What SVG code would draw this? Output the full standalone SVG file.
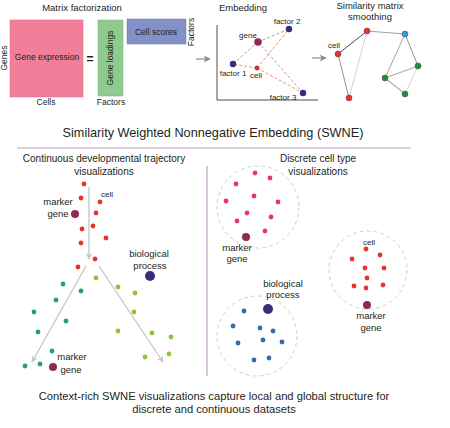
<svg xmlns="http://www.w3.org/2000/svg" width="450" height="428" viewBox="0 0 450 428">
<defs>
<style>
text{font-family:"Liberation Sans",Arial,sans-serif;fill:#231f20;}
.t{font-size:9.5px;text-anchor:middle;}
.s{font-size:8.5px;text-anchor:middle;}
.xs{font-size:8px;text-anchor:middle;}
.big{font-size:12.7px;text-anchor:middle;}
.bot{font-size:11.2px;text-anchor:middle;}
.ax{stroke:#231f20;stroke-width:0.8;fill:none;}
.gd{stroke:#9a9a9a;stroke-width:0.9;stroke-dasharray:3,2;fill:none;}
.od{stroke:#f0855a;stroke-width:0.9;stroke-dasharray:3,2;fill:none;}
.fac{fill:#3b2a7d;}
.mk{fill:#8e2a57;}
.red{fill:#e8322e;}
.pink{fill:#e9336e;}
.blu{fill:#3a66b1;}
.teal{fill:#26998e;}
.lime{fill:#8cc43f;}
.circ{fill:none;stroke:#c8c8c8;stroke-width:0.9;stroke-dasharray:4,3;}
.arr{stroke:#c4c4c4;stroke-width:1.3;fill:none;}
.gn{stroke:#444;stroke-width:0.5;}
</style>
<marker id="ah" viewBox="0 0 10 10" refX="9" refY="5" markerWidth="5" markerHeight="5" orient="auto" markerUnits="strokeWidth">
<path d="M0,0 L10,5 L0,10 L3,5 z" fill="#c4c4c4"/>
</marker>
<marker id="ahg" viewBox="0 0 10 10" refX="9" refY="5" markerWidth="6" markerHeight="6" orient="auto" markerUnits="strokeWidth">
<path d="M0,0 L10,5 L0,10 L3,5 z" fill="#8a8a8a"/>
</marker>
</defs>

<!-- Matrix factorization -->
<g id="matrix-factorization">
<text class="t" x="82" y="11">Matrix factorization</text>
<rect x="10" y="20" width="73" height="77" fill="#f17f9a" stroke="#d96a85" stroke-width="0.5"/>
<text class="s" x="47" y="60">Gene expression</text>
<text class="s" transform="translate(7,58) rotate(-90)">Genes</text>
<text class="s" x="46" y="105">Cells</text>
<text x="90" y="63" style="font-size:12px;font-weight:bold;text-anchor:middle">=</text>
<rect x="98" y="20" width="25" height="76" fill="#8fca8f" stroke="#76b077" stroke-width="0.5"/>
<text class="s" transform="translate(113,58) rotate(-90)">Gene loadings</text>
<text class="s" x="111" y="105">Factors</text>
<rect x="127" y="19" width="59" height="25" fill="#8291c6" stroke="#6f7fb3" stroke-width="0.5"/>
<text class="s" x="156" y="35">Cell scores</text>
<text class="s" transform="translate(194,32) rotate(-90)">Factors</text>
</g>

<g id="connectors">
<line x1="196" y1="59" x2="210" y2="59" stroke="#8a8a8a" stroke-width="1.2" marker-end="url(#ahg)"/>
<line x1="312" y1="58" x2="326" y2="58" stroke="#8a8a8a" stroke-width="1.2" marker-end="url(#ahg)"/>
</g>

<!-- Embedding -->
<g id="embedding">
<text class="t" x="243" y="11">Embedding</text>
<path class="ax" d="M217,25 V100 H318"/>
<line class="gd" x1="258" y1="42" x2="233" y2="64"/>
<line class="gd" x1="258" y1="42" x2="289" y2="29"/>
<line class="gd" x1="258" y1="42" x2="303" y2="93"/>
<line class="od" x1="257" y1="68" x2="233" y2="64"/>
<line class="od" x1="257" y1="68" x2="289" y2="29"/>
<line class="od" x1="257" y1="68" x2="303" y2="93"/>
<circle class="fac" cx="289" cy="29" r="3.2"/>
<circle class="fac" cx="233" cy="64" r="3.2"/>
<circle class="fac" cx="303" cy="93" r="3.2"/>
<circle class="mk" cx="258" cy="42" r="3.8"/>
<circle cx="257" cy="68" r="2.2" fill="#e8322e" stroke="#6a1a1a" stroke-width="0.4"/>
<text class="xs" x="287" y="24">factor 2</text>
<text class="xs" x="248" y="38">gene</text>
<text class="xs" x="233" y="76">factor 1</text>
<text class="xs" x="256" y="78">cell</text>
<text class="xs" x="283" y="100">factor 3</text>
</g>

<!-- Similarity smoothing -->
<g id="similarity-smoothing">
<text class="t" x="370" y="9">Similarity matrix</text>
<text class="t" x="370" y="20">smoothing</text>
<line x1="367" y1="31" x2="405" y2="34" stroke="#999" stroke-width="0.9"/>
<line x1="367" y1="31" x2="338" y2="54" stroke="#333" stroke-width="0.9"/>
<line x1="367" y1="31" x2="349" y2="98" stroke="#ccc" stroke-width="0.9"/>
<line x1="338" y1="54" x2="349" y2="98" stroke="#888" stroke-width="0.9"/>
<line x1="405" y1="34" x2="418" y2="66" stroke="#888" stroke-width="0.9"/>
<line x1="405" y1="34" x2="385" y2="78" stroke="#999" stroke-width="0.9"/>
<line x1="385" y1="78" x2="418" y2="66" stroke="#999" stroke-width="0.9"/>
<line x1="385" y1="78" x2="405" y2="94" stroke="#777" stroke-width="0.9"/>
<line x1="418" y1="66" x2="405" y2="94" stroke="#ccc" stroke-width="0.9"/>
<circle class="red gn" cx="367" cy="31" r="3"/>
<circle cx="405" cy="34" r="3" fill="#2a9fd8" class="gn"/>
<circle class="red gn" cx="338" cy="54" r="3"/>
<circle class="red gn" cx="349" cy="98" r="3"/>
<circle cx="418" cy="66" r="3" fill="#1f8f3e" class="gn"/>
<circle cx="385" cy="78" r="3" fill="#1f8f3e" class="gn"/>
<circle cx="405" cy="94" r="3" fill="#1f8f3e" class="gn"/>
<text class="xs" x="334" y="48">cell</text>
</g>

<!-- SWNE title -->
<g id="swne-title">
<text class="big" x="213" y="137">Similarity Weighted Nonnegative Embedding (SWNE)</text>
<line x1="17" y1="148" x2="411" y2="148" stroke="#c39ec8" stroke-width="1.2"/>
<line x1="207" y1="166" x2="207" y2="376" stroke="#c39ec8" stroke-width="1.2"/>
</g>

<!-- Continuous -->
<g id="continuous">
<text class="t" x="104" y="162" style="font-size:10px">Continuous developmental trajectory</text>
<text class="t" x="104" y="175" style="font-size:10px">visualizations</text>
<line class="arr" x1="89" y1="187" x2="89" y2="259" marker-end="url(#ah)"/>
<line class="arr" x1="86" y1="266" x2="32" y2="362" marker-end="url(#ah)"/>
<line class="arr" x1="99" y1="266" x2="163" y2="362" marker-end="url(#ah)"/>
<g class="red">
<circle cx="84" cy="184" r="2.4"/><circle cx="81" cy="198" r="2.4"/><circle cx="100" cy="202" r="2.4"/>
<circle cx="96" cy="213" r="2.4"/><circle cx="93" cy="226" r="2.4"/><circle cx="82" cy="229" r="2.4"/>
<circle cx="106" cy="238" r="2.4"/><circle cx="81" cy="243" r="2.4"/><circle cx="95" cy="259" r="2.4"/>
<circle cx="78" cy="267" r="2.4"/>
</g>
<g class="lime">
<circle cx="96" cy="278" r="2.4"/><circle cx="118" cy="287" r="2.4"/><circle cx="135" cy="293" r="2.4"/>
<circle cx="134" cy="312" r="2.4"/><circle cx="118" cy="331" r="2.4"/><circle cx="152" cy="333" r="2.4"/>
<circle cx="171" cy="337" r="2.4"/><circle cx="145" cy="357" r="2.4"/><circle cx="169" cy="354" r="2.4"/>
</g>
<g class="teal">
<circle cx="63" cy="284" r="2.4"/><circle cx="81" cy="291" r="2.4"/><circle cx="56" cy="300" r="2.4"/>
<circle cx="34" cy="312" r="2.4"/><circle cx="66" cy="321" r="2.4"/><circle cx="38" cy="332" r="2.4"/>
<circle cx="52" cy="351" r="2.4"/><circle cx="40" cy="364" r="2.4"/><circle cx="25" cy="366" r="2.4"/>
</g>
<text class="xs" x="107" y="197">cell</text>
<text class="t" x="58" y="205">marker</text>
<text class="t" x="58" y="217">gene</text>
<circle class="mk" cx="75" cy="214" r="4"/>
<text class="t" x="149" y="257">biological</text>
<text class="t" x="150" y="269">process</text>
<circle class="fac" cx="150" cy="276" r="5"/>
<circle class="mk" cx="53" cy="367" r="4"/>
<text class="t" x="72" y="360">marker</text>
<text class="t" x="71" y="373">gene</text>
</g>

<!-- Discrete -->
<g id="discrete">
<text class="t" x="318" y="162" style="font-size:10px">Discrete cell type</text>
<text class="t" x="318" y="175" style="font-size:10px">visualizations</text>
<circle class="circ" cx="258" cy="207" r="41"/>
<circle class="circ" cx="368" cy="270" r="39"/>
<circle class="circ" cx="257" cy="336" r="40"/>
<g class="pink">
<circle cx="255" cy="173" r="2.4"/><circle cx="270" cy="178" r="2.4"/><circle cx="236" cy="184" r="2.4"/>
<circle cx="254" cy="196" r="2.4"/><circle cx="226" cy="201" r="2.4"/><circle cx="278" cy="202" r="2.4"/>
<circle cx="247" cy="213" r="2.4"/><circle cx="271" cy="217" r="2.4"/><circle cx="237" cy="221" r="2.4"/>
<circle cx="265" cy="231" r="2.4"/>
</g>
<circle class="mk" cx="246" cy="237" r="4"/>
<text class="t" x="237" y="251">marker</text>
<text class="t" x="237" y="262">gene</text>
<g class="red">
<circle cx="366" cy="249" r="2.4"/><circle cx="352" cy="259" r="2.4"/><circle cx="380" cy="255" r="2.4"/>
<circle cx="365" cy="268" r="2.4"/><circle cx="384" cy="268" r="2.4"/><circle cx="367" cy="278" r="2.4"/>
<circle cx="354" cy="286" r="2.4"/><circle cx="366" cy="288" r="2.4"/><circle cx="383" cy="285" r="2.4"/>
</g>
<text class="xs" x="369" y="245">cell</text>
<circle class="mk" cx="367" cy="305" r="4"/>
<text class="t" x="371" y="319">marker</text>
<text class="t" x="371" y="331">gene</text>
<text class="t" x="283" y="287">biological</text>
<text class="t" x="283" y="298">process</text>
<circle class="fac" cx="268" cy="309" r="5"/>
<g class="blu">
<circle cx="244" cy="311" r="2.4"/><circle cx="233" cy="326" r="2.4"/><circle cx="260" cy="328" r="2.4"/>
<circle cx="273" cy="331" r="2.4"/><circle cx="238" cy="343" r="2.4"/><circle cx="263" cy="340" r="2.4"/>
<circle cx="282" cy="342" r="2.4"/><circle cx="254" cy="360" r="2.4"/><circle cx="269" cy="358" r="2.4"/>
</g>
</g>

<g id="caption">
<text class="bot" x="214" y="400">Context-rich SWNE visualizations capture local and global structure for</text>
<text class="bot" x="214" y="413">discrete and continuous datasets</text>
</g>
</svg>
